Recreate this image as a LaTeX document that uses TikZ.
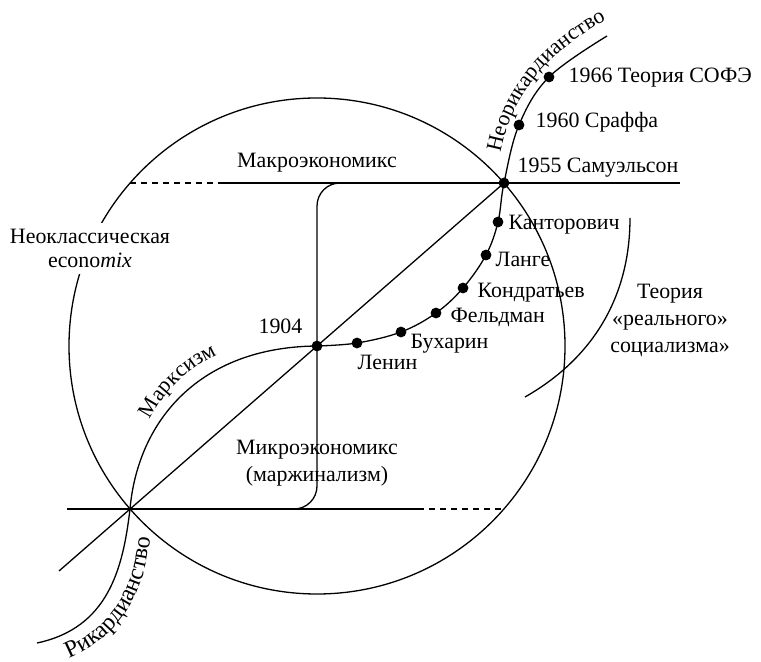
\documentclass[tikz,border=0pt,11pt]{standalone}
\usepackage{fontspec}
\setmainfont{Liberation Serif}
\usetikzlibrary{positioning}
\usetikzlibrary{decorations.text}

\begin{document}
\begin{tikzpicture}[x=0.5pt, y=-0.5pt, line width=0.65pt,
		dot/.style={circle, fill, black, inner sep=0pt, minimum size=5.4pt},
		lbl/.style={inner sep=0pt},
		dashline/.style={dash pattern=on 3pt off 2.5pt},
		arclbl/.style={decorate, decoration={text along path, text align=center, text={#1}}}]
		\useasboundingbox (0,0) rectangle (761,662);
		
		\coordinate (O) at (317,346);
		\coordinate (A) at (130,509);
		\coordinate (B) at (504,183);
		\coordinate (Rend) at (37,643);
		\coordinate (Len) at (357,343);
		\coordinate (Buh) at (401,332);
		\coordinate (Fel) at (436,313);
		\coordinate (Kon) at (463,288);
		\coordinate (Lan) at (486,255);
		\coordinate (Kan) at (498,222);
		\coordinate (Sra) at (519,125);
		\coordinate (Sof) at (549,77);
		\coordinate (Nend) at (607,36);
		
		% circle, axes and diagonal
		\draw (O) circle[radius=124pt];
		\draw[dashline] (130,183) -- (222,183);
		\draw (222,183) -- (680,183);
		\draw (67,509) -- (418,509);
		\draw[dashline] (418,509) -- (A -| 504,0);
		\draw (59,571) -- (B);
		\draw[rounded corners=11.5pt] (370,183) -- (317,183) -- (317,509) -- (260,509);
		
		% curves
		\draw (Rend) .. controls (108,628) and (123,569) .. (A) .. controls (138,420) and (200,347) .. (O);
		\draw plot[smooth, tension=0.6] coordinates {(O) (Len) (Buh) (Fel) (Kon) (Lan) (Kan) (B) (Sra) (Sof) (Nend)};
		\draw (630,218) .. controls (630,300) and (590,360) .. (525,397);
		
		% dots
		\node[dot] (d1904) at (O) {};
		\node[dot] (dLen) at (Len) {};
		\node[dot] (dBuh) at (Buh) {};
		\node[dot] (dFel) at (Fel) {};
		\node[dot] (dKon) at (Kon) {};
		\node[dot] (dLan) at (Lan) {};
		\node[dot] (dKan) at (Kan) {};
		\node[dot] (d1955) at (B) {};
		\node[dot] (d1960) at (Sra) {};
		\node[dot] (d1966) at (Sof) {};
		
		% labels
		\node[lbl, anchor=base] (macro) at (317,168) {Макроэкономикс};
		\node[lbl, anchor=base, align=center] (micro) at (317,482) {Микроэкономикс\\(маржинализм)};
		\node[lbl, anchor=base, align=center, fill=white, inner sep=3pt] (neo) at (90,268) {Неоклассическая\\[-1.5pt]econo\textit{mix}};
		\node[lbl, anchor=base, align=center] (real) at (670,353) {Теория\\«реального»\\социализма»};
		\node[lbl, anchor=base east] (t1904) at (303,334) {1904};
		\node[lbl, anchor=base west] (tLen) at (357,370) {Ленин};
		\node[lbl, anchor=base west] (tBuh) at (410,349) {Бухарин};
		\node[lbl, anchor=base west] (tFel) at (450,323) {Фельдман};
		\node[lbl, anchor=base west] (tKon) at (477,298) {Кондратьев};
		\node[lbl, anchor=base west] (tLan) at (495,267) {Ланге};
		\node[lbl, anchor=base west] (tKan) at (508,230) {Канторович};
		\node[lbl, anchor=base west] (t1955) at (517,173) {1955 Самуэльсон};
		\node[lbl, anchor=base west] (t1960) at (535,128) {1960 Сраффа};
		\node[lbl, anchor=base west] (t1966) at (568,83) {1966 Теория СОФЭ};
		
		% labels along the curves
		\path[arclbl={Марксизм}] (147,426) .. controls (162,393) and (188,366) .. (224,352);
		\path[arclbl={|\fontsize{12}{14}\selectfont|Рикардианство}] (58,662) .. controls (122,641) and (148,590) .. (151,526);
		\path[arclbl={Неорикардианство}] (499,162) .. controls (507,102) and (545,50) .. (615,16);
	\end{tikzpicture}
\end{document}
